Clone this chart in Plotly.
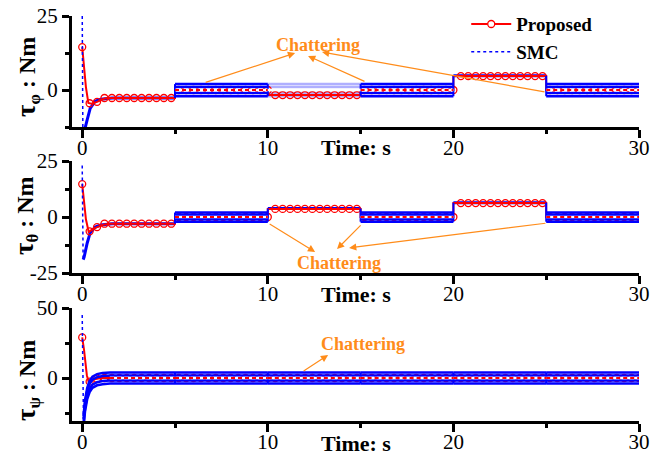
import numpy as np
import plotly.graph_objects as go

# ---------------- data ----------------
t_edges = [0, 5, 10, 15, 20, 25, 30]          # reference switching instants (s)
marker_step = 0.4                               # spacing of the circle markers (s)
x_ticks = [0, 10, 20, 30]
x_minor = [5, 15, 25]

# tau_phi
phi_prop_tr_t = [0.0, 0.1, 0.2, 0.33, 0.5, 0.8, 1.0, 1.2, 1.5]
phi_prop_tr_v = [14.5, 7.5, 1.0, -4.4, -4.6, -4.0, -3.4, -2.9, -2.7]
phi_prop_levels = [-2.7, 0.0, -1.7, 0.0, 4.7, 0.0]
phi_smc_tr_t = [0.04, 0.15, 0.27, 0.43, 0.7, 1.0, 1.6]
phi_smc_tr_v = [-20.0, -13.0, -10.0, -6.2, -3.8, -3.1, -2.7]
phi_smc_centre = [-2.7, 0.0, 0.0, 0.0, 4.8, 0.0]
phi_smc_mode = [0, 1, 2, 1, 0, 1]               # 0 smooth, 1 chattering, 2 faint chattering
phi_band = [2.0, 1.0, -1.0, -2.1]
phi_spike_t = [0.0, 0.04]
phi_spike_v = [27.0, -20.0]
phi_yticks = [0, 25]
phi_yminor = [-12.5, 12.5]
phi_range = [-12.5, 25]

# tau_theta
theta_prop_tr_t = [0.0, 0.1, 0.2, 0.35, 0.55, 0.8, 1.0, 1.2, 1.5]
theta_prop_tr_v = [14.7, 6.0, -1.0, -6.7, -5.5, -4.5, -3.8, -3.3, -3.0]
theta_prop_levels = [-3.0, 0.0, 3.6, 0.0, 6.2, 0.0]
theta_smc_tr_t = [0.05, 0.1, 0.27, 0.43, 0.7, 1.0, 1.6]
theta_smc_tr_v = [-19.0, -18.0, -11.6, -7.0, -4.5, -3.6, -3.0]
theta_smc_centre = [-3.0, 0.0, 3.8, 0.0, 6.4, 0.0]
theta_smc_mode = [0, 1, 0, 1, 0, 1]
theta_band = [2.0, 1.0, -1.0, -2.1]
theta_spike_t = [0.0, 0.05]
theta_spike_v = [23.0, -19.0]
theta_yticks = [-25, 0, 25]
theta_yminor = [-12.5, 12.5]
theta_range = [-25, 25]

# tau_psi
psi_prop_tr_t = [0.0, 0.1, 0.25, 0.35, 0.6, 1.0]
psi_prop_tr_v = [29.0, 20.0, 2.0, -3.0, -1.0, 0.0]
psi_prop_levels = [0.0, 0.0, 0.0, 0.0, 0.0, 0.0]
psi_smc_tr_t = [0.07, 0.15, 0.27, 0.4, 0.55, 0.8, 1.1, 1.5]
psi_smc_tr_v = [-31.0, -20.0, -11.0, -6.0, -3.0, -1.2, -0.4, 0.0]
psi_smc_centre = [0.0, 0.0, 0.0, 0.0, 0.0, 0.0]
psi_smc_mode = [1, 1, 1, 1, 1, 1]
psi_band = [4.0, 1.8, -1.8, -4.0]
psi_spike_t = [0.0, 0.07]
psi_spike_v = [45.0, -31.0]
psi_yticks = [0, 50]
psi_yminor = [-25, 25]
psi_range = [-30.7, 50]

# ---------------- style ----------------
RED = "#FF0000"
BLUE = "#0000FF"
FAINT = "rgba(110,110,255,0.55)"
ORANGE = "#FF8C1A"
FONT = "Liberation Serif"
W, H = 667, 466
X_DOM = [72 / W, 639 / W]
Y_DOMS = [[1 - 127 / H, 1 - 16 / H], [1 - 273 / H, 1 - 161 / H], [1 - 421 / H, 1 - 308 / H]]

panels = [
    dict(prop_tr_t=phi_prop_tr_t, prop_tr_v=phi_prop_tr_v, prop_levels=phi_prop_levels,
         smc_tr_t=phi_smc_tr_t, smc_tr_v=phi_smc_tr_v, smc_centre=phi_smc_centre,
         smc_mode=phi_smc_mode, band=phi_band, spike_t=phi_spike_t, spike_v=phi_spike_v,
         yticks=phi_yticks, yminor=phi_yminor, yrange=phi_range, sub="φ"),
    dict(prop_tr_t=theta_prop_tr_t, prop_tr_v=theta_prop_tr_v, prop_levels=theta_prop_levels,
         smc_tr_t=theta_smc_tr_t, smc_tr_v=theta_smc_tr_v, smc_centre=theta_smc_centre,
         smc_mode=theta_smc_mode, band=theta_band, spike_t=theta_spike_t, spike_v=theta_spike_v,
         yticks=theta_yticks, yminor=theta_yminor, yrange=theta_range, sub="θ"),
    dict(prop_tr_t=psi_prop_tr_t, prop_tr_v=psi_prop_tr_v, prop_levels=psi_prop_levels,
         smc_tr_t=psi_smc_tr_t, smc_tr_v=psi_smc_tr_v, smc_centre=psi_smc_centre,
         smc_mode=psi_smc_mode, band=psi_band, spike_t=psi_spike_t, spike_v=psi_spike_v,
         yticks=psi_yticks, yminor=psi_yminor, yrange=psi_range, sub="ψ"),
]

fig = go.Figure()


def seg_start(p, i):
    a = t_edges[i]
    if i == 0:
        a = max(a, p["smc_tr_t"][-1])
    return a


def add_panel(k, p):
    xa = "x" if k == 1 else f"x{k}"
    ya = "y" if k == 1 else f"y{k}"
    base = dict(xaxis=xa, yaxis=ya, hoverinfo="skip", showlegend=False)
    nseg = len(t_edges) - 1
    centre, mode, band = p["smc_centre"], p["smc_mode"], p["band"]

    # faint chattering intervals (under the proposed curve)
    for off in band:
        xs, ys = [], []
        for i in range(nseg):
            if mode[i] == 2:
                xs += [t_edges[i], t_edges[i + 1], None]
                ys += [centre[i] + off, centre[i] + off, None]
        if xs:
            fig.add_trace(go.Scatter(x=xs, y=ys, mode="lines",
                                     line=dict(color=FAINT, width=2.5), **base))

    # SMC where it settles without chattering
    xs, ys = [], []
    for i in range(nseg):
        if mode[i] == 0:
            if i == 0:
                xs += list(p["smc_tr_t"]) + [t_edges[1], None]
                ys += list(p["smc_tr_v"]) + [centre[0], None]
            else:
                xs += [t_edges[i], t_edges[i + 1], None]
                ys += [centre[i], centre[i], None]
    fig.add_trace(go.Scatter(x=xs, y=ys, mode="lines",
                             line=dict(color=BLUE, width=3), **base))

    # proposed controller: transient then held levels
    levels = p["prop_levels"]
    px_, py_ = list(p["prop_tr_t"]), list(p["prop_tr_v"])
    for i, lv in enumerate(levels):
        a = t_edges[i] if i > 0 else p["prop_tr_t"][-1]
        px_ += [a, t_edges[i + 1]]
        py_ += [lv, lv]
    fig.add_trace(go.Scatter(x=px_, y=py_, mode="lines",
                             line=dict(color=RED, width=2), **base))

    grid = np.round(np.arange(0, t_edges[-1] + 1e-9, marker_step), 3)
    mk_y = []
    for t in grid:
        if t < 1.2:
            mk_y.append(float(np.interp(t, p["prop_tr_t"], p["prop_tr_v"])))
        else:
            idx = max(int(np.searchsorted(t_edges, t - 1e-9, side="left")) - 1, 0)
            mk_y.append(levels[idx])
    fig.add_trace(go.Scatter(x=grid, y=mk_y, mode="markers",
                             marker=dict(symbol="circle-open", size=7, color=RED,
                                         line=dict(width=1.3, color=RED)), **base))

    # SMC chattering band
    for off in band:
        xs, ys = [], []
        for i in range(nseg):
            if mode[i] == 1:
                if i == 0:
                    xs += list(p["smc_tr_t"]) + [t_edges[1], None]
                    ys += [v + off for v in p["smc_tr_v"]] + [centre[0] + off, None]
                else:
                    xs += [t_edges[i], t_edges[i + 1], None]
                    ys += [centre[i] + off, centre[i] + off, None]
        if xs:
            fig.add_trace(go.Scatter(x=xs, y=ys, mode="lines",
                                     line=dict(color=BLUE, width=2.5), **base))

    # vertical jumps of the SMC signal at the switching instants
    xs, ys = [], []
    for i in range(1, nseg):
        ext = []
        for j in (i - 1, i):
            if mode[j] == 0:
                ext += [centre[j]]
            else:
                ext += [centre[j] + min(band), centre[j] + max(band)]
        xs += [t_edges[i], t_edges[i], None]
        ys += [min(ext), max(ext), None]
    fig.add_trace(go.Scatter(x=xs, y=ys, mode="lines",
                             line=dict(color=BLUE, width=2), **base))

    # centre of the chattering band: white gap with the dashed proposed curve
    xs, ys, dx, dy = [], [], [], []
    for i in range(nseg):
        if mode[i] in (1, 2):
            a = seg_start(p, i)
            xs += [a, t_edges[i + 1], None]
            ys += [centre[i], centre[i], None]
            if abs(levels[i] - centre[i]) < 1e-9:
                dx += [a, t_edges[i + 1], None]
                dy += [levels[i], levels[i], None]
    fig.add_trace(go.Scatter(x=xs, y=ys, mode="lines",
                             line=dict(color="white", width=2.5), **base))
    if dx:
        fig.add_trace(go.Scatter(x=dx, y=dy, mode="lines",
                                 line=dict(color=RED, width=2, dash="4px,3px"), **base))

    # initial SMC spike (dotted)
    sb = dict(base)
    if k == 1:
        sb.update(showlegend=True, name="<b>SMC</b>", legendrank=2)
    fig.add_trace(go.Scatter(x=p["spike_t"], y=p["spike_v"], mode="lines",
                             line=dict(color=BLUE, width=1.5, dash="dot"), **sb))


for k, p in enumerate(panels, start=1):
    add_panel(k, p)

# legend entry for the proposed controller
fig.add_trace(go.Scatter(x=[None], y=[None], mode="lines+markers", name="<b>Proposed</b>",
                         line=dict(color=RED, width=2),
                         marker=dict(symbol="circle", size=7, color="white",
                                     line=dict(width=1.3, color=RED)),
                         legendrank=1, hoverinfo="skip"))

tickfont = dict(family=FONT, size=21, color="black")
layout_axes = {}
for k, p in enumerate(panels, start=1):
    xk = "xaxis" if k == 1 else f"xaxis{k}"
    yk = "yaxis" if k == 1 else f"yaxis{k}"
    ya = "y" if k == 1 else f"y{k}"
    xa = "x" if k == 1 else f"x{k}"
    layout_axes[xk] = dict(domain=X_DOM, range=[-0.55, 30], anchor=ya, automargin=False,
                           showline=True, linecolor="black", linewidth=3,
                           ticks="outside", ticklen=8, tickwidth=3, tickcolor="black",
                           tickvals=x_ticks, ticktext=[str(v) for v in x_ticks],
                           tickfont=tickfont, ticklabelstandoff=-8,
                           showgrid=False, zeroline=False,
                           minor=dict(tickvals=x_minor, ticks="outside", ticklen=4,
                                      tickwidth=3, tickcolor="black", showgrid=False),
                           fixedrange=True)
    layout_axes[yk] = dict(domain=Y_DOMS[k - 1], range=p["yrange"], anchor=xa, automargin=False,
                           showline=True, linecolor="black", linewidth=3,
                           ticks="outside", ticklen=7, tickwidth=3, tickcolor="black",
                           tickvals=p["yticks"], ticktext=[str(v) for v in p["yticks"]],
                           tickfont=tickfont, showgrid=False, zeroline=False,
                           minor=dict(tickvals=p["yminor"], ticks="outside", ticklen=4,
                                      tickwidth=3, tickcolor="black", showgrid=False),
                           fixedrange=True)

annotations = []
# axis titles
title_pos = [(27, 77), (25, 216), (27, 380)]
for (px, py), p in zip(title_pos, panels):
    annotations.append(dict(text=f"<b><span style='font-size:27px'>τ</span><sub>{p['sub']}</sub>\u00a0:\u00a0Nm</b>",
                            textangle=-90,
                            x=px / W, y=1 - py / H, xref="paper", yref="paper",
                            showarrow=False, xanchor="center", yanchor="middle",
                            font=dict(family=FONT, size=24, color="black")))
for py in (147, 294, 443):
    annotations.append(dict(text="<b>Time: s</b>", x=356 / W, y=1 - py / H,
                            xref="paper", yref="paper", showarrow=False,
                            xanchor="center", yanchor="middle",
                            font=dict(family=FONT, size=22, color="black")))

# "Chattering" labels and arrows (tail on the band, head at the label)
chat_labels = [(1, 12.71, 15.3), (2, 13.84, -20.5), (3, 15.13, 24.5)]
chat_arrows = [
    (1, 6.57, 2.4, 11.47, 12.5),
    (1, 15.29, 2.7, 12.17, 11.5),
    (1, 24.99, -0.7, 12.92, 12.8),
    (2, 10.02, -2.7, 12.55, -15.6),
    (2, 15.08, -3.1, 13.73, -14.3),
    (2, 25.04, -2.7, 14.38, -13.8),
    (3, 11.85, 4.3, 13.25, 16.4),
]
for k, tx, ty in chat_labels:
    xr = "x" if k == 1 else f"x{k}"
    yr = "y" if k == 1 else f"y{k}"
    annotations.append(dict(text="<b>Chattering</b>", x=tx, y=ty, xref=xr, yref=yr,
                            showarrow=False, font=dict(family=FONT, size=18, color=ORANGE)))
for k, x0, y0, x1, y1 in chat_arrows:
    xr = "x" if k == 1 else f"x{k}"
    yr = "y" if k == 1 else f"y{k}"
    annotations.append(dict(text="", x=x1, y=y1, ax=x0, ay=y0, xref=xr, yref=yr,
                            axref=xr, ayref=yr, showarrow=True, arrowhead=2,
                            arrowsize=1.2, arrowwidth=1.2, arrowcolor=ORANGE, standoff=0))

fig.update_layout(
    template="none",
    width=W, height=H,
    margin=dict(l=0, r=0, t=0, b=0, pad=0),
    paper_bgcolor="white", plot_bgcolor="white",
    showlegend=True,
    legend=dict(x=0.699, y=0.989, xanchor="left", yanchor="top",
                bgcolor="rgba(0,0,0,0)", font=dict(family=FONT, size=19, color="black"),
                itemwidth=40, tracegroupgap=0),
    annotations=annotations,
    **layout_axes,
)

fig.write_html("out.html")
